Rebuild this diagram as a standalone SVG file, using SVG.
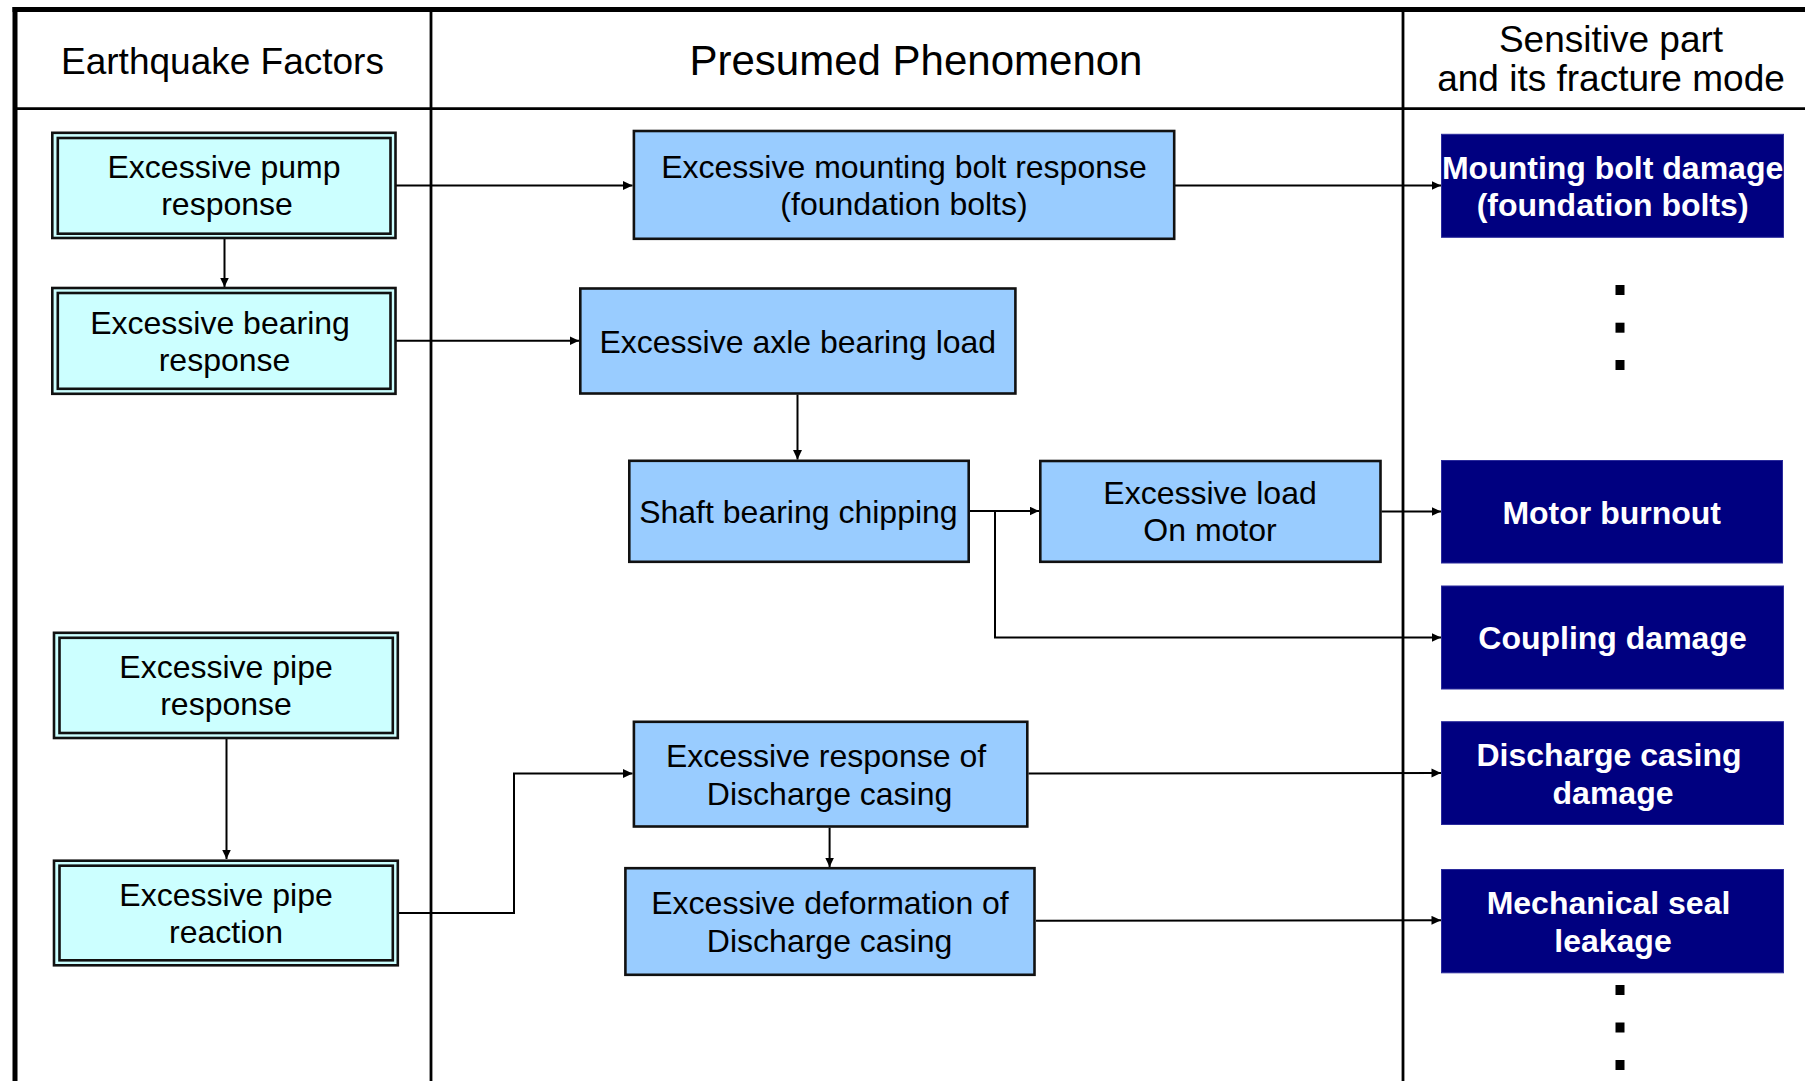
<svg xmlns="http://www.w3.org/2000/svg" width="1805" height="1081" viewBox="0 0 1805 1081">
  <style>
    .hdr { font-family: "Liberation Sans", Arial, sans-serif; font-size: 37px; fill: #000; text-anchor: middle; }
    .hdr-big { font-size: 42px; }
    .grid { stroke: #000; fill: none; }
    .txt { font-family: "Liberation Sans", Arial, sans-serif; font-size: 32px; fill: #000; text-anchor: middle; }
    .wtxt { font-family: "Liberation Sans", Arial, sans-serif; font-size: 32px; font-weight: bold; fill: #fff; text-anchor: middle; }
    .factor-out { fill: #ccffff; stroke: #111; stroke-width: 2.6; }
    .factor-in { fill: #ccffff; stroke: #111; stroke-width: 2.6; }
    .phen { fill: #99ccff; stroke: #111; stroke-width: 2.6; }
    .mode { fill: #000080; stroke: #2b2b9c; stroke-width: 1; }
    .conn { stroke: #000; stroke-width: 2; fill: none; }
    .dot { fill: #000; }
  </style>
  <defs>
    <marker id="arrow" markerUnits="userSpaceOnUse" markerWidth="10" markerHeight="10" refX="9.5" refY="4.5" orient="auto">
      <path d="M0,0 L9.5,4.5 L0,9 Z" fill="#000"/>
    </marker>
  </defs>

  <rect x="0" y="0" width="1805" height="1081" fill="#fff"/>

  <!-- table frame -->
  <g id="table">
    <line class="grid" x1="12.5" y1="9.5" x2="1805" y2="9.5" stroke-width="5"/>
    <line class="grid" x1="15" y1="7" x2="15" y2="1081" stroke-width="5"/>
    <line class="grid" x1="15" y1="108.7" x2="1805" y2="108.7" stroke-width="2.7"/>
    <line class="grid" x1="431" y1="9" x2="431" y2="1081" stroke-width="2.8"/>
    <line class="grid" x1="1403" y1="9" x2="1403" y2="1081" stroke-width="2.8"/>
    <text class="hdr" x="222.5" y="73.5">Earthquake Factors</text>
    <text class="hdr hdr-big" x="916" y="75">Presumed Phenomenon</text>
    <text class="hdr" x="1611" y="52">Sensitive part</text>
    <text class="hdr" x="1611" y="91">and its fracture mode</text>
  </g>

  <!-- connectors -->
  <g id="connectors">
    <line class="conn" x1="396" y1="185.5" x2="632.5" y2="185.5" marker-end="url(#arrow)"/>
    <line class="conn" x1="224.5" y1="239" x2="224.5" y2="287" marker-end="url(#arrow)"/>
    <line class="conn" x1="396" y1="340.7" x2="579" y2="340.7" marker-end="url(#arrow)"/>
    <line class="conn" x1="1175" y1="185.5" x2="1441" y2="185.5" marker-end="url(#arrow)"/>
    <line class="conn" x1="797.5" y1="394.5" x2="797.5" y2="459.5" marker-end="url(#arrow)"/>
    <line class="conn" x1="969.5" y1="511" x2="1039" y2="511" marker-end="url(#arrow)"/>
    <polyline class="conn" points="995,511 995,637.5 1441,637.5" marker-end="url(#arrow)"/>
    <line class="conn" x1="1381.5" y1="511.5" x2="1441" y2="511.5" marker-end="url(#arrow)"/>
    <line class="conn" x1="226.5" y1="739" x2="226.5" y2="859" marker-end="url(#arrow)"/>
    <polyline class="conn" points="398.5,913 514,913 514,773.5 632.5,773.5" marker-end="url(#arrow)"/>
    <line class="conn" x1="1028.5" y1="773.5" x2="1441" y2="773" marker-end="url(#arrow)"/>
    <line class="conn" x1="829.6" y1="827.5" x2="829.6" y2="867" marker-end="url(#arrow)"/>
    <line class="conn" x1="1036" y1="920.8" x2="1441" y2="920.3" marker-end="url(#arrow)"/>
  </g>

  <!-- earthquake factors -->
  <g id="pump-response">
    <rect class="factor-out" x="52.3" y="132.8" width="343.2" height="105.2"/>
    <rect class="factor-in" x="57.8" y="138" width="332.7" height="95.7"/>
    <text class="txt" x="224" y="178.4">Excessive pump</text>
    <text class="txt" x="227" y="215.4">response</text>
  </g>
  <g id="bearing-response">
    <rect class="factor-out" x="52.3" y="288" width="343.2" height="105.8"/>
    <rect class="factor-in" x="57.8" y="293" width="332.7" height="95.8"/>
    <text class="txt" x="220" y="333.9">Excessive bearing</text>
    <text class="txt" x="224.5" y="370.9">response</text>
  </g>
  <g id="pipe-response">
    <rect class="factor-out" x="54" y="632.8" width="343.8" height="105.2"/>
    <rect class="factor-in" x="59.5" y="637.8" width="333.3" height="95.2"/>
    <text class="txt" x="226" y="678">Excessive pipe</text>
    <text class="txt" x="226" y="715.4">response</text>
  </g>
  <g id="pipe-reaction">
    <rect class="factor-out" x="54" y="860.7" width="343.8" height="104.6"/>
    <rect class="factor-in" x="59.5" y="865.7" width="333.3" height="94.6"/>
    <text class="txt" x="226" y="905.5">Excessive pipe</text>
    <text class="txt" x="226" y="943">reaction</text>
  </g>

  <!-- presumed phenomena -->
  <g id="bolt-response">
    <rect class="phen" x="633.9" y="131" width="540.3" height="107.8"/>
    <text class="txt" x="904" y="177.5">Excessive mounting bolt response</text>
    <text class="txt" x="904" y="214.5">(foundation bolts)</text>
  </g>
  <g id="axle-load">
    <rect class="phen" x="580.3" y="288.5" width="435.1" height="105"/>
    <text class="txt" x="797.8" y="352.5">Excessive axle bearing load</text>
  </g>
  <g id="shaft-chipping">
    <rect class="phen" x="629.3" y="460.8" width="339.4" height="101"/>
    <text class="txt" x="798.4" y="522.8">Shaft bearing chipping</text>
  </g>
  <g id="motor-load">
    <rect class="phen" x="1040.3" y="461" width="340.2" height="100.8"/>
    <text class="txt" x="1210" y="504">Excessive load</text>
    <text class="txt" x="1210" y="541">On motor</text>
  </g>
  <g id="casing-response">
    <rect class="phen" x="633.9" y="721.8" width="393.4" height="104.7"/>
    <text class="txt" x="826" y="767">Excessive response of</text>
    <text class="txt" x="829.6" y="804.5">Discharge casing</text>
  </g>
  <g id="casing-deformation">
    <rect class="phen" x="625.4" y="868.2" width="409.1" height="106.6"/>
    <text class="txt" x="830" y="914">Excessive deformation of</text>
    <text class="txt" x="829.6" y="952">Discharge casing</text>
  </g>

  <!-- sensitive parts / fracture modes -->
  <g id="bolt-damage">
    <rect class="mode" x="1441.5" y="134.3" width="342" height="103"/>
    <text class="wtxt" x="1612.6" y="179">Mounting bolt damage</text>
    <text class="wtxt" x="1612.6" y="216">(foundation bolts)</text>
  </g>
  <g id="motor-burnout">
    <rect class="mode" x="1441.5" y="460.5" width="341" height="102.5"/>
    <text class="wtxt" x="1611.7" y="523.5">Motor burnout</text>
  </g>
  <g id="coupling-damage">
    <rect class="mode" x="1441.5" y="586" width="342" height="103"/>
    <text class="wtxt" x="1612.5" y="649">Coupling damage</text>
  </g>
  <g id="casing-damage">
    <rect class="mode" x="1441.5" y="721.7" width="342" height="102.8"/>
    <text class="wtxt" x="1609" y="766">Discharge casing</text>
    <text class="wtxt" x="1613" y="803.5">damage</text>
  </g>
  <g id="seal-leakage">
    <rect class="mode" x="1441.5" y="869.5" width="342" height="103.3"/>
    <text class="wtxt" x="1608.5" y="914">Mechanical seal</text>
    <text class="wtxt" x="1613" y="951.5">leakage</text>
  </g>

  <!-- continuation marks -->
  <g id="more-modes">
    <rect class="dot" x="1615.5" y="285" width="9" height="10"/>
    <rect class="dot" x="1615.5" y="322.7" width="9" height="10"/>
    <rect class="dot" x="1615.5" y="360" width="9" height="10"/>
    <rect class="dot" x="1615.5" y="985" width="9" height="10"/>
    <rect class="dot" x="1615.5" y="1022.5" width="9" height="10"/>
    <rect class="dot" x="1615.5" y="1060" width="9" height="10"/>
  </g>
</svg>
